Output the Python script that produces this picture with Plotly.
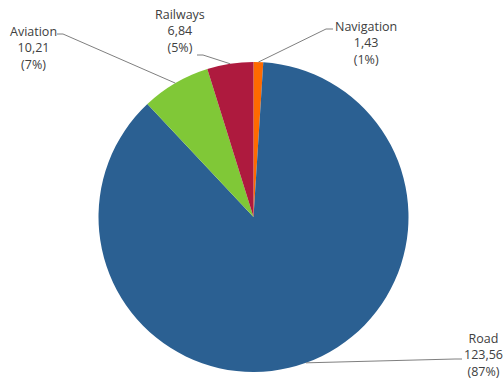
import math
import plotly.graph_objects as go

# Data (clockwise from 12 o'clock)
labels = ["Navigation", "Road", "Aviation", "Railways"]
values = [1.43, 123.56, 10.21, 6.84]
colors = ["#FF6A00", "#2B6092", "#80C837", "#AE1A3E"]

W, H = 504, 379
cx, cy, R = 253.5, 217.0, 155.0  # pie centre / radius in pixels

fig = go.Figure(go.Pie(
    labels=labels, values=values, sort=False, direction="clockwise", rotation=0,
    marker=dict(colors=colors, line=dict(width=0)),
    textinfo="none", hoverinfo="label+value+percent", showlegend=False,
    domain=dict(x=[(cx - R) / W, (cx + R) / W], y=[(H - cy - R) / H, (H - cy + R) / H]),
))

# label text centres (pixels) and leader-line elbow points
label_pos = {
    "Aviation": dict(text=(33, 48), elbow=(63, 34), end=(57, 34)),
    "Railways": dict(text=(180, 31), elbow=(203, 55), end=(197, 55)),
    "Navigation": dict(text=(366, 43), elbow=(326, 29), end=(333, 29)),
    "Road": dict(text=(483, 355), elbow=(455, 359), end=(462, 359)),
}

def px(x):
    return x / W

def py(y):
    return 1 - y / H

total = sum(values)
cum = 0.0
shapes, annotations = [], []
for lab, v in zip(labels, values):
    mid = (cum + v / 2) / total * 2 * math.pi
    cum += v
    ax_, ay_ = cx + R * math.sin(mid), cy - R * math.cos(mid)
    p = label_pos[lab]
    ex, ey = p["elbow"]
    tx, ty = p["end"]
    shapes.append(dict(
        type="path", xref="paper", yref="paper",
        path=f"M {px(ax_)},{py(ay_)} L {px(ex)},{py(ey)} L {px(tx)},{py(ty)}",
        line=dict(color="#7F7F7F", width=1),
    ))
    pct = round(v / total * 100)
    txt = f"{lab}<br>{str(v).replace('.', ',')}<br>({pct}%)"
    annotations.append(dict(
        x=px(p["text"][0]), y=py(p["text"][1]), xref="paper", yref="paper",
        text=txt, showarrow=False, align="center", xanchor="center", yanchor="middle",
        font=dict(family="Open Sans, sans-serif", size=12.5, color="#404040"),
    ))

fig.update_layout(
    width=W, height=H, margin=dict(l=0, r=0, t=0, b=0),
    paper_bgcolor="white", plot_bgcolor="white",
    shapes=shapes, annotations=annotations,
)

fig.write_html(
    "out.html",
    config={"displayModeBar": False},
    post_script="document.body.style.margin='0';document.body.style.overflow='hidden';",
)
